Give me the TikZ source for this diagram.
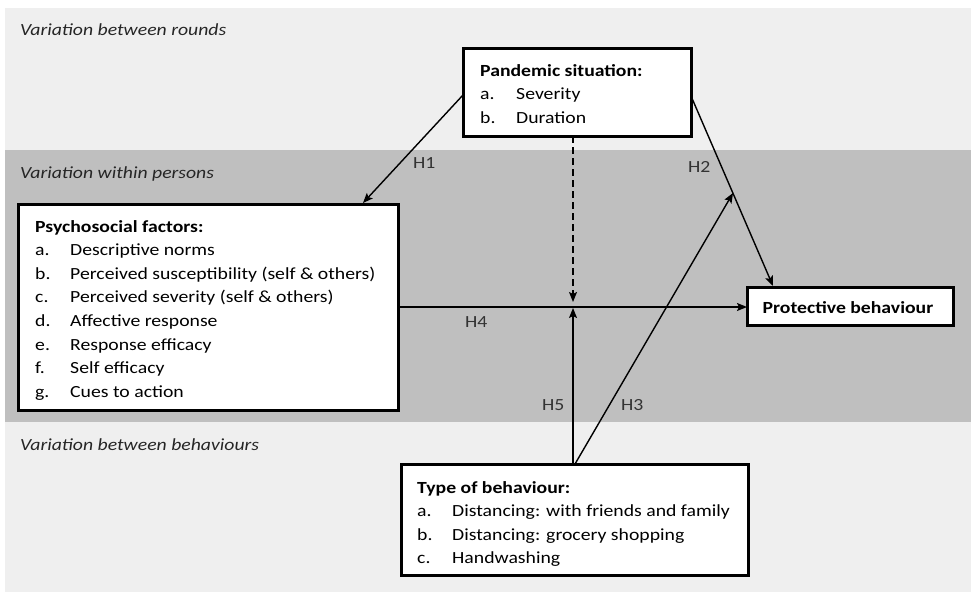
\documentclass[tikz,border=0pt]{standalone}
\usepackage{fontspec}
\setmainfont{Carlito}[FakeStretch=1.16]
\usetikzlibrary{arrows.meta}
\definecolor{bandlight}{HTML}{EFEFEF}
\definecolor{banddark}{HTML}{BFBFBF}
\begin{document}
\begin{tikzpicture}[x=1pt,y=-1pt,
  box/.style={draw=black, line width=3pt, fill=white, rectangle, inner sep=0pt, outer sep=0pt, anchor=north west},
  txt/.style={anchor=base west, inner sep=0pt, font=\fontsize{17}{20}\selectfont, text=black},
  btxt/.style={txt, font=\fontsize{17}{20}\selectfont\bfseries},
  ital/.style={txt, font=\fontsize{17}{20}\selectfont\itshape, text=black!85},
  hlab/.style={txt, text=black!80},
  conn/.style={line width=1.4pt, draw=black, -{Stealth[length=10pt,width=8pt,inset=2pt]}},
  dconn/.style={conn, dash pattern=on 7pt off 4pt},
]
\useasboundingbox (0,0) rectangle (971,592);
% bands
\fill[white] (0,0) rectangle (971,592);
\fill[bandlight] (5,8) rectangle (971,150);
\fill[banddark] (5,150) rectangle (971,422);
\fill[bandlight] (5,422) rectangle (971,592);

\node[ital] (lr) at (20,35) {Variation between rounds};
\node[ital] (lp) at (20,178) {Variation within persons};
\node[ital] (lb) at (20,450) {Variation between behaviours};

% boxes
\node[box, minimum width=228pt, minimum height=88pt] (pan) at (463,48) {};
\node[box, minimum width=380pt, minimum height=206pt] (psy) at (18,204) {};
\node[box, minimum width=206pt, minimum height=38pt] (pro) at (747,287) {};
\node[box, minimum width=347pt, minimum height=111pt] (typ) at (401,464) {};

% pandemic text
\node[btxt] (pan0) at (480,76) {Pandemic situation:};
\node[txt] (pan1l) at (480,99.5) {a.};
\node[txt] (pan1) at (516,99.5) {Severity};
\node[txt] (pan2l) at (480,123) {b.};
\node[txt] (pan2) at (516,123) {Duration};

% psychosocial text
\node[btxt] (psy0) at (35,232) {Psychosocial factors:};
\node[txt] (psy1l) at (35,255.6) {a.};
\node[txt] (psy1) at (70,255.6) {Descriptive norms};
\node[txt] (psy2l) at (35,279.2) {b.};
\node[txt] (psy2) at (70,279.2) {Perceived susceptibility (self \& others)};
\node[txt] (psy3l) at (35,302.8) {c.};
\node[txt] (psy3) at (70,302.8) {Perceived severity (self \& others)};
\node[txt] (psy4l) at (35,326.4) {d.};
\node[txt] (psy4) at (70,326.4) {Affective response};
\node[txt] (psy5l) at (35,350) {e.};
\node[txt] (psy5) at (70,350) {Response efficacy};
\node[txt] (psy6l) at (35,373.6) {f.};
\node[txt] (psy6) at (70,373.6) {Self efficacy};
\node[txt] (psy7l) at (35,397.2) {g.};
\node[txt] (psy7) at (70,397.2) {Cues to action};

% protective text
\node[btxt, anchor=base] (pro0) at (848,313) {Protective behaviour};

% type text
\node[btxt] (typ0) at (417,493) {Type of behaviour:};
\node[txt] (typ1l) at (417,516.5) {a.};
\node[txt] (typ1) at (452,516.5) {Distancing: with friends and family};
\node[txt] (typ2l) at (417,540) {b.};
\node[txt] (typ2) at (452,540) {Distancing: grocery shopping};
\node[txt] (typ3l) at (417,563.5) {c.};
\node[txt] (typ3) at (452,563.5) {Handwashing};

% connector end points
\coordinate (h1s) at (463,95);
\coordinate (h1e) at (363,203);
\coordinate (h2s) at (691,96);
\coordinate (h2e) at (773,286);
\coordinate (dse) at (573,136);
\coordinate (dee) at (573,302);
\coordinate (h4s) at (398,307);
\coordinate (h4e) at (747,307);
\coordinate (h5s) at (573,464);
\coordinate (h5e) at (573,308);
\coordinate (h3s) at (575,464);
\coordinate (h3e) at (733,193);

\draw[conn] (h1s) -- (h1e);
\draw[conn] (h2s) -- (h2e);
\draw[dconn] (dse) -- (dee);
\draw[conn] (h4s) -- (h4e);
\draw[conn] (h5s) -- (h5e);
\draw[conn] (h3s) -- (h3e);

% labels
\node[hlab] (H1) at (413,168) {H1};
\node[hlab] (H2) at (688,172) {H2};
\node[hlab] (H4) at (465,327) {H4};
\node[hlab] (H5) at (542,410) {H5};
\node[hlab] (H3) at (621,410) {H3};
\end{tikzpicture}
\end{document}
